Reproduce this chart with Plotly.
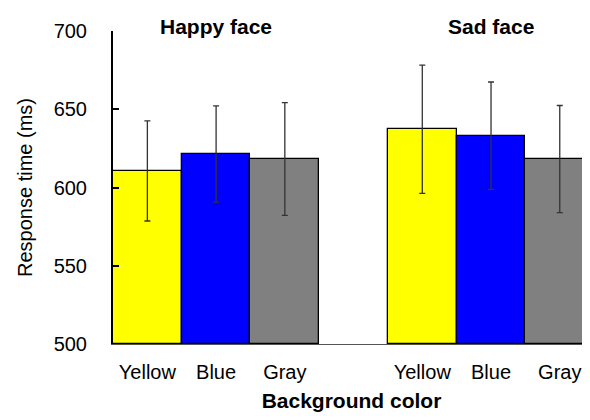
import plotly.graph_objects as go

# Data
groups = ["Happy face", "Sad face"]
colors_lbl = ["Yellow", "Blue", "Gray"]
happy_means = [610.6, 621.4, 618.2]
happy_errs = [32.0, 30.7, 36.0]
sad_means = [637.2, 633.1, 618.2]
sad_errs = [41.0, 34.3, 34.2]
tick_labels = colors_lbl + colors_lbl

fill = ["#FFFF00", "#0000FF", "#808080"]

xpos = [0, 1, 2, 4, 5, 6]
means = happy_means + sad_means
errs = happy_errs + sad_errs

fig = go.Figure()
fig.add_trace(go.Bar(
    x=xpos, y=[m - 500 for m in means], base=500,
    width=1.0,
    marker=dict(color=fill + fill, line=dict(color="black", width=1.3)),
    error_y=dict(type="data", array=errs, color="#333333", thickness=1.3, width=3),
    showlegend=False,
))

font_fam = "Arial, Liberation Sans, sans-serif"
fig.update_layout(
    width=582, height=404,
    margin=dict(l=105, r=0, t=23, b=68),
    paper_bgcolor="white", plot_bgcolor="white",
    font=dict(family=font_fam, color="black"),
    bargap=0,
    xaxis=dict(
        range=[-0.5, 6.44], tickmode="array", tickvals=xpos, ticktext=tick_labels,
        showgrid=False, zeroline=False, showline=True, linecolor="#555555", linewidth=1,
        ticks="", tickfont=dict(size=20), ticklabelstandoff=10,
        title=dict(text="<b>Background color</b>", font=dict(size=21), standoff=12),
    ),
    yaxis=dict(
        range=[500, 700], tickvals=[500, 550, 600, 650, 700],
        showgrid=False, zeroline=False, showline=True, linecolor="black", linewidth=2,
        ticks="inside", ticklen=6, tickwidth=1.5, tickcolor="black",
        tickfont=dict(size=20), ticklabelstandoff=20,
        title=dict(text="Response time (ms)", font=dict(size=20), standoff=16),
    ),
)

for gx, g in zip([1, 5], groups):
    fig.add_annotation(x=gx, y=700, xref="x", yref="y", text="<b>" + g + "</b>",
                       showarrow=False, font=dict(size=21), yanchor="middle", yshift=5)

fig.write_html("out.html")
